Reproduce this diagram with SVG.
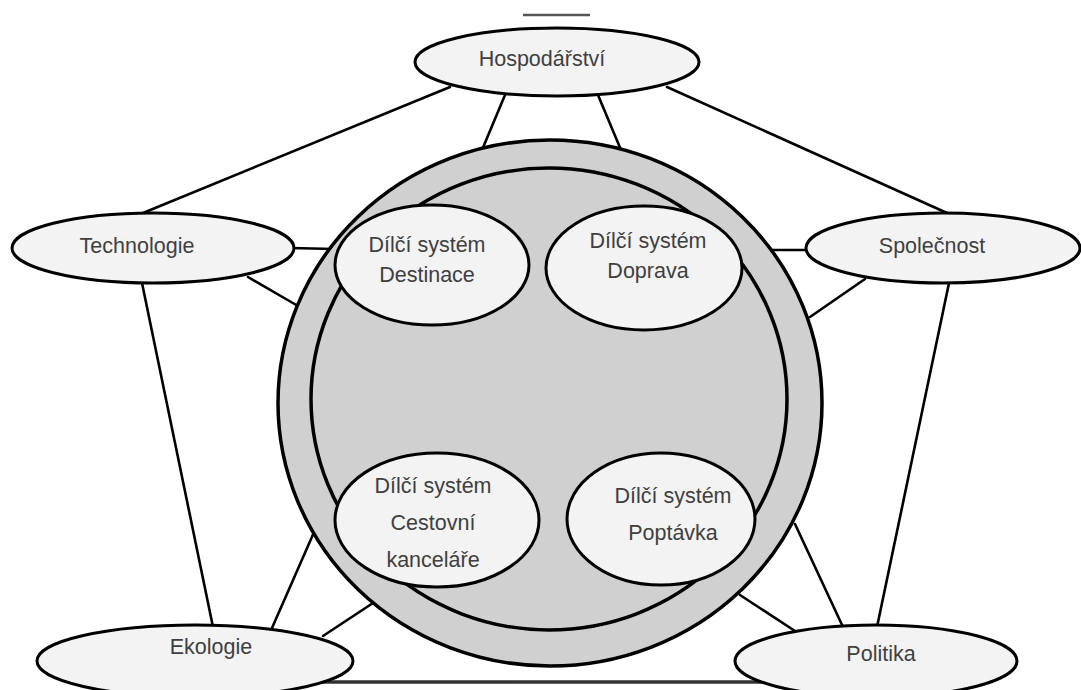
<svg xmlns="http://www.w3.org/2000/svg" width="1081" height="690" viewBox="0 0 1081 690">
<style>
.bg{fill:#ffffff}
.conn line{stroke:#000;stroke-width:2.6;stroke-linecap:round}
.outer{fill:#f3f3f3;stroke:#000;stroke-width:3}
.ring{fill:#d0d0d0;stroke:#000;stroke-width:3.5}
.sub{fill:#f3f3f3;stroke:#000;stroke-width:3}
text{font-family:"Liberation Sans",Arial,sans-serif;font-size:21.5px;fill:#3f3f3f;text-anchor:middle}
</style>
<rect class="bg" x="0" y="0" width="1081" height="690"/>
<line x1="523" y1="15" x2="590" y2="15" stroke="#555" stroke-width="2.5"/>
<g id="connectors" class="conn">
  <line x1="143" y1="213" x2="450" y2="87"/>
  <line x1="505" y1="95" x2="482" y2="150"/>
  <line x1="598" y1="95" x2="621" y2="150"/>
  <line x1="667" y1="87" x2="947" y2="213"/>
  <line x1="290" y1="248" x2="335" y2="249"/>
  <line x1="248" y1="277" x2="298" y2="306"/>
  <line x1="142" y1="283" x2="213" y2="627"/>
  <line x1="772" y1="250" x2="810" y2="250"/>
  <line x1="865" y1="279" x2="810" y2="317"/>
  <line x1="949" y1="283" x2="877" y2="627"/>
  <line x1="272" y1="628" x2="315" y2="530"/>
  <line x1="323" y1="636" x2="373" y2="603"/>
  <line x1="843" y1="627" x2="795" y2="524"/>
  <line x1="795" y1="631" x2="740" y2="595"/>
  <line x1="320" y1="682" x2="765" y2="682" style="stroke:#333;stroke-width:3.5"/>
</g>
<g id="system">
  <ellipse class="ring" cx="550" cy="403" rx="272" ry="263"/>
  <ellipse class="ring" cx="549" cy="399" rx="238" ry="231"/>
</g>
<g id="destinace">
  <ellipse class="sub" cx="432" cy="265" rx="97" ry="60"/>
  <text x="427" y="252">Dílčí systém</text>
  <text x="427" y="282">Destinace</text>
</g>
<g id="doprava">
  <ellipse class="sub" cx="644" cy="268" rx="98" ry="62"/>
  <text x="648" y="248">Dílčí systém</text>
  <text x="648" y="278">Doprava</text>
</g>
<g id="cestovni">
  <ellipse class="sub" cx="437" cy="520" rx="102" ry="67"/>
  <text x="433" y="493">Dílčí systém</text>
  <text x="433" y="530">Cestovní</text>
  <text x="433" y="567">kanceláře</text>
</g>
<g id="poptavka">
  <ellipse class="sub" cx="661" cy="519" rx="94" ry="66"/>
  <text x="673" y="503">Dílčí systém</text>
  <text x="673" y="540">Poptávka</text>
</g>
<g id="hospodarstvi">
  <ellipse class="outer" cx="557" cy="62" rx="142" ry="34"/>
  <text x="542" y="66">Hospodářství</text>
</g>
<g id="technologie">
  <ellipse class="outer" cx="153" cy="248" rx="141" ry="35"/>
  <text x="137" y="253">Technologie</text>
</g>
<g id="spolecnost">
  <ellipse class="outer" cx="943" cy="248" rx="137" ry="35"/>
  <text x="932" y="253">Společnost</text>
</g>
<g id="ekologie">
  <ellipse class="outer" cx="195" cy="661" rx="158" ry="36"/>
  <text x="211" y="654">Ekologie</text>
</g>
<g id="politika">
  <ellipse class="outer" cx="876" cy="661" rx="141" ry="36"/>
  <text x="881" y="661">Politika</text>
</g>
</svg>
